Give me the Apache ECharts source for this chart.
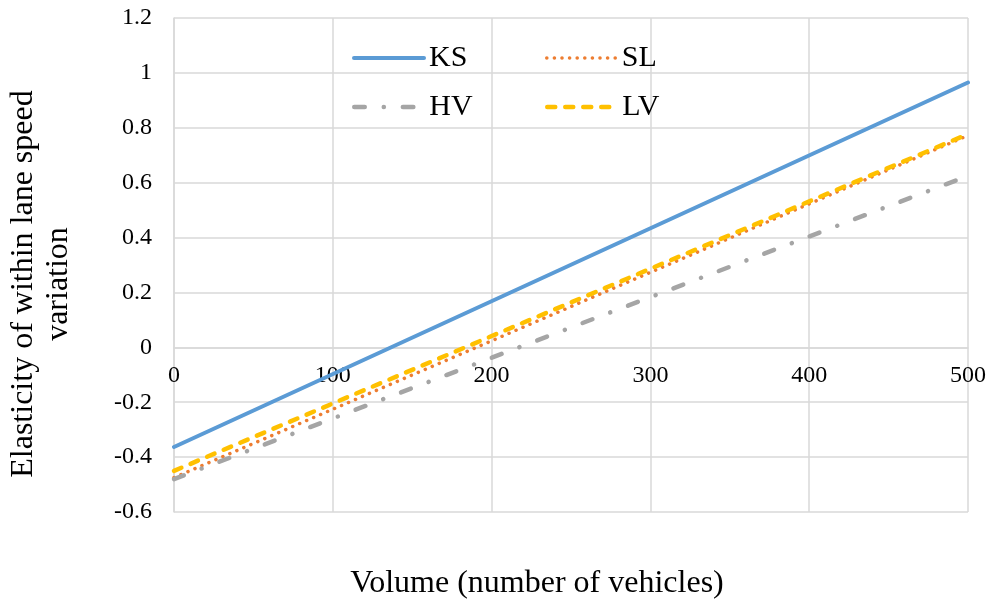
<!DOCTYPE html>
<html>
<head>
<meta charset="utf-8">
<script src="https://cdn.jsdelivr.net/npm/echarts@6/dist/echarts.min.js"></script>
<style>html,body{margin:0;padding:0;background:#fff;}#c{width:990px;height:605px;}</style>
</head>
<body>
<div id="c"></div>
<script>
var volume = [0, 500];
var seriesNames = ['KS', 'SL', 'HV', 'LV'];
var KS = [-0.363, 0.965];
var SL = [-0.475, 0.772];
var HV = [-0.48, 0.625];
var LV = [-0.45, 0.777];
var xTicks = [0, 100, 200, 300, 400, 500];
var yTicks = [-0.6, -0.4, -0.2, 0, 0.2, 0.4, 0.6, 0.8, 1, 1.2];

var FONT = "'Liberation Serif','Times New Roman',serif";
function pairs(ys) { return volume.map(function (v, i) { return [v, ys[i]]; }); }

var styles = {
  KS: { color: '#5B9BD5', width: 4, type: 'solid', cap: 'round' },
  SL: { color: '#ED7D31', width: 3.5, type: [0.1, 7.5], cap: 'round' },
  HV: { color: '#A5A5A5', width: 4.5, type: [10.5, 19, 0.1, 19], cap: 'round' },
  LV: { color: '#FFC000', width: 4.5, type: [8, 10], cap: 'round' }
};
var dataMap = { KS: KS, SL: SL, HV: HV, LV: LV };

function mkLegend(name, left, top) {
  var s = styles[name];
  return {
    data: [name], left: left, top: top, padding: 0, itemWidth: 70, itemHeight: 14, itemGap: 0,
    textStyle: { fontFamily: FONT, fontSize: 30, color: '#000' },
    itemStyle: { opacity: 0 },
    lineStyle: { width: s.width, type: s.type, cap: s.cap, color: s.color },
    selectedMode: false
  };
}

// vertical pixel offset of the value 0 from the bottom of the plot
var GRID_TOP = 18, GRID_BOTTOM = 93, H = 605;
var plotH = H - GRID_TOP - GRID_BOTTOM;
var zeroOffset = plotH * (0 - (-0.6)) / (1.2 - (-0.6));

var chart = echarts.init(document.getElementById('c'), null, { renderer: 'canvas' });
chart.setOption({
  animation: false,
  backgroundColor: '#fff',
  grid: { left: 174, right: 22, top: GRID_TOP, bottom: GRID_BOTTOM, containLabel: false, outerBoundsMode: 'none' },
  legend: [
    mkLegend('KS', 352, 43),
    mkLegend('SL', 545, 43),
    mkLegend('HV', 352, 92),
    mkLegend('LV', 545, 92)
  ],
  xAxis: {
    type: 'value', min: 0, max: 500, interval: 100,
    offset: -zeroOffset,
    name: 'Volume (number of vehicles)', nameLocation: 'middle', nameGap: 220,
    nameTextStyle: { fontFamily: FONT, fontSize: 32, color: '#000', padding: [0, 68, 0, 0] },
    axisLine: { onZero: false, lineStyle: { color: '#d9d9d9', width: 1.5 } },
    axisTick: { show: false },
    axisLabel: { fontFamily: FONT, fontSize: 24, color: '#000', margin: 16,
      formatter: function (v) { return xTicks.indexOf(v) >= 0 ? String(v) : ''; } },
    splitLine: { show: true, lineStyle: { color: '#d9d9d9', width: 1.5 } }
  },
  yAxis: {
    type: 'value', min: -0.6, max: 1.2, interval: 0.2,
    name: 'Elasticity of within lane speed\nvariation', nameLocation: 'middle', nameGap: 98,
    nameTextStyle: { fontFamily: FONT, fontSize: 32, color: '#000', lineHeight: 35, padding: [0, 38, 0, 0] },
    axisLine: { show: true, onZero: false, lineStyle: { color: '#d9d9d9', width: 1.5 } },
    axisTick: { show: false },
    axisLabel: { fontFamily: FONT, fontSize: 24, color: '#000', margin: 22,
      formatter: function (v) {
        var r = Math.round(v * 10) / 10;
        return String(r);
      } },
    splitLine: { show: true, lineStyle: { color: '#d9d9d9', width: 1.5 } }
  },
  series: seriesNames.map(function (n) {
    var s = styles[n];
    return {
      name: n, type: 'line', data: pairs(dataMap[n]), showSymbol: false, symbol: 'none',
      color: s.color,
      lineStyle: { color: s.color, width: s.width, type: s.type, cap: s.cap }
    };
  })
});
</script>
</body>
</html>
